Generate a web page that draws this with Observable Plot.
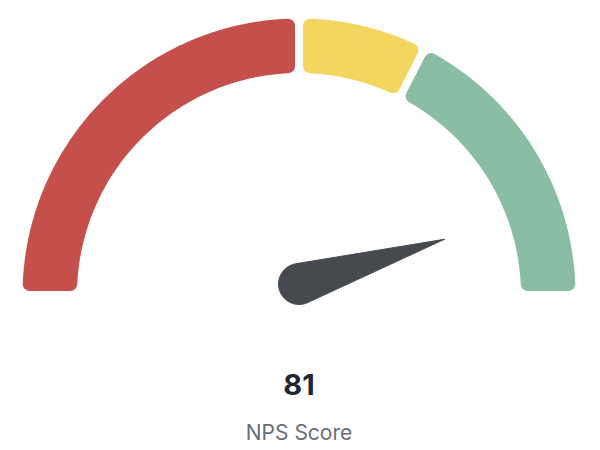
<!DOCTYPE html>
<html>
<head>
<meta charset="utf-8">
<script src="https://cdn.jsdelivr.net/npm/d3@7"></script>
<script src="https://cdn.jsdelivr.net/npm/@observablehq/plot@0.6"></script>
<style>
  html, body { margin: 0; padding: 0; background: #fff; }
  #chart { width: 600px; height: 450px; }
</style>
</head>
<body>
<div id="chart"></div>
<script>
// ---- data ----
const bandStarts = [-100, 0, 30];
const bandEnds   = [0, 30, 100];
const bandNames  = ["Detractor", "Passive", "Promoter"];
const bandColors = ["#c44f4b", "#f3d560", "#89bea5"];
const score = 81;
const scoreLabel = "NPS Score";
const scaleMin = -100, scaleMax = 100;

// ---- geometry helpers (unit-radius coordinates) ----
const PX = 276.5;            // pixels per unit radius
const rOuter = 1.0;
const rInner = 222 / PX;
const corner = 7 / PX;       // rounded-corner radius (stroke half width)
const halfGap = 4 / PX;      // half of the gap between bands

const theta = v => Math.PI * (1 - (v - scaleMin) / (scaleMax - scaleMin));

const bandPts = [];
bandStarts.forEach((s, i) => {
  const e = bandEnds[i];
  const ro = rOuter - corner, ri = rInner + corner;
  const inset = halfGap + corner;
  const steps = 80;
  const arc = (r, from, to) => {
    const a0 = theta(from) - inset / r, a1 = theta(to) + inset / r;
    const out = [];
    for (let k = 0; k <= steps; k++) {
      const a = a0 + (a1 - a0) * k / steps;
      out.push([r * Math.cos(a), r * Math.sin(a)]);
    }
    return out;
  };
  const outer = arc(ro, s, e);
  const inner = arc(ri, s, e).reverse();
  [...outer, ...inner].forEach(([x, y], k) =>
    bandPts.push({band: bandNames[i], color: bandColors[i], x, y, k}));
});

// needle: circle base + tip (pivot sits slightly above the arc baseline)
const needleBase = 20.5 / PX, needleLen = 152 / PX, pivotY = 11 / PX;
const phi = theta(score);
const alpha = Math.acos(needleBase / needleLen);
const needlePts = [{x: needleLen * Math.cos(phi), y: pivotY + needleLen * Math.sin(phi)}];
const nSteps = 80;
for (let k = 0; k <= nSteps; k++) {
  const a = (phi + alpha) + (2 * Math.PI - 2 * alpha) * k / nSteps;
  needlePts.push({x: needleBase * Math.cos(a), y: pivotY + needleBase * Math.sin(a)});
}

const cx = 298.5, cy = 294.5;
const chart = Plot.plot({
  width: 600,
  height: 450,
  margin: 0,
  x: {domain: [-1, 1], range: [cx - PX, cx + PX], axis: null},
  y: {domain: [0, 1], range: [cy, cy - PX], axis: null},
  style: {background: "#fff"},
  marks: [
    Plot.line(bandPts, {
      x: "x", y: "y", z: "band",
      fill: "color", stroke: "color",
      strokeWidth: corner * 2 * PX,
      strokeLinejoin: "round",
      curve: "linear-closed"
    }),
    Plot.line(needlePts, {
      x: "x", y: "y",
      fill: "#46494e", stroke: "#46494e", strokeWidth: 1,
      curve: "linear-closed"
    }),
    Plot.text([String(score)], {
      x: () => 0, y: () => 0, text: d => d, dy: 91,
      fontSize: 29, fontWeight: 700, fill: "#1f2630",
      fontFamily: "Inter, 'Noto Sans', sans-serif"
    }),
    Plot.text([scoreLabel], {
      x: () => 0, y: () => 0, text: d => d, dy: 138,
      fontSize: 21, fill: "#6b6e72",
      fontFamily: "Inter, 'Noto Sans', sans-serif",
      style: "letter-spacing: 0.6px"
    })
  ]
});
document.getElementById("chart").appendChild(chart);
</script>
</body>
</html>
